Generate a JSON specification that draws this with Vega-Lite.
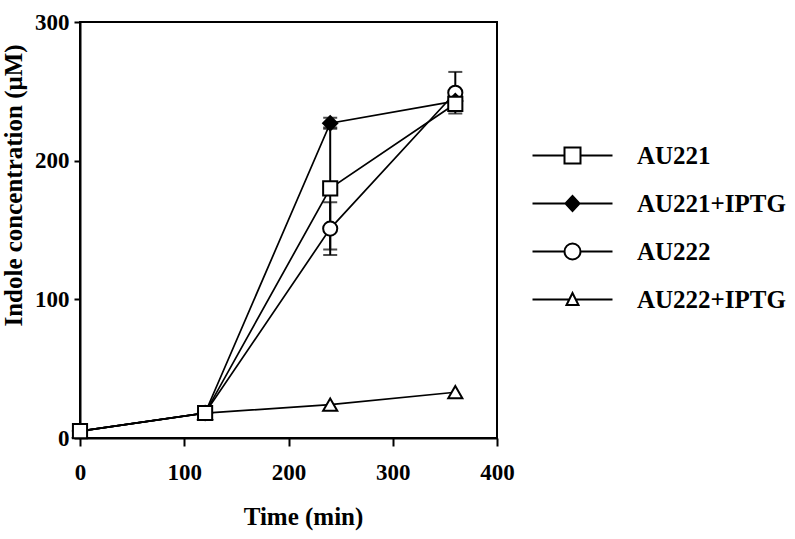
{
  "$schema": "https://vega.github.io/schema/vega-lite/v6.json",
  "width": 417,
  "height": 416,
  "autosize": {"type": "none"},
  "padding": {"left": 80, "top": 22, "right": 298, "bottom": 101},
  "background": "white",
  "config": {
    "font": "Liberation Serif",
    "view": {"stroke": "black", "strokeWidth": 2},
    "axis": {
      "labelFont": "Liberation Serif", "labelFontWeight": "bold", "labelFontSize": 23, "labelColor": "black",
      "titleFont": "Liberation Serif", "titleFontWeight": "bold", "titleFontSize": 25, "titleColor": "black",
      "domainColor": "black", "domainWidth": 2, "tickColor": "black", "tickWidth": 2, "grid": false
    },
    "legend": {
      "symbolStrokeColor": "black", "symbolStrokeWidth": 2
    }
  },
  "data": {
    "values": [
      {"series": "AU222+IPTG", "time": 0, "value": 5},
      {"series": "AU222+IPTG", "time": 120, "value": 18},
      {"series": "AU222+IPTG", "time": 240, "value": 24},
      {"series": "AU222+IPTG", "time": 360, "value": 33},
      {"series": "AU222", "time": 0, "value": 5},
      {"series": "AU222", "time": 120, "value": 18},
      {"series": "AU222", "time": 240, "value": 151, "lo": 132, "hi": 170},
      {"series": "AU222", "time": 360, "value": 249, "lo": 234, "hi": 264},
      {"series": "AU221+IPTG", "time": 0, "value": 5},
      {"series": "AU221+IPTG", "time": 120, "value": 18},
      {"series": "AU221+IPTG", "time": 240, "value": 227, "lo": 223, "hi": 231},
      {"series": "AU221+IPTG", "time": 360, "value": 243},
      {"series": "AU221", "time": 0, "value": 5},
      {"series": "AU221", "time": 120, "value": 18},
      {"series": "AU221", "time": 240, "value": 180, "lo": 136, "hi": 224},
      {"series": "AU221", "time": 360, "value": 241}
    ]
  },
  "encoding": {
    "x": {"field": "time", "type": "quantitative", "scale": {"domain": [0, 400], "nice": false},
      "axis": {"title": "Time (min)", "values": [0, 100, 200, 300, 400], "tickSize": 8, "labelPadding": 15, "titlePadding": 20, "titleX": 223, "labelFlush": false}},
    "y": {"field": "value", "type": "quantitative", "scale": {"domain": [0, 300], "nice": false},
      "axis": {"title": "Indole concentration (μM)", "values": [0, 100, 200, 300], "tickSize": 6, "labelPadding": 5, "titlePadding": 8, "titleY": 163, "titleFontSize": 25, "labelFlush": false}}
  },
  "layer": [
    {
      "mark": {"type": "line", "color": "black", "strokeWidth": 1.7},
      "encoding": {"detail": {"field": "series"}}
    },
    {
      "transform": [{"filter": "isValid(datum.lo)"}],
      "mark": {"type": "rule", "color": "black", "strokeWidth": 2},
      "encoding": {"y": {"field": "lo", "type": "quantitative"}, "y2": {"field": "hi"}}
    },
    {
      "transform": [{"filter": "isValid(datum.lo)"}],
      "mark": {"type": "tick", "orient": "horizontal", "color": "black", "size": 14, "thickness": 2},
      "encoding": {"y": {"field": "lo", "type": "quantitative"}}
    },
    {
      "transform": [{"filter": "isValid(datum.hi)"}],
      "mark": {"type": "tick", "orient": "horizontal", "color": "black", "size": 14, "thickness": 2},
      "encoding": {"y": {"field": "hi", "type": "quantitative"}}
    },
    {
      "mark": {"type": "point", "filled": true, "stroke": "black", "strokeWidth": 2, "size": 200, "opacity": 1},
      "encoding": {
        "shape": {
          "field": "series", "type": "nominal",
          "scale": {"domain": ["AU222+IPTG", "AU222", "AU221+IPTG", "AU221"], "range": ["triangle-up", "circle", "diamond", "square"]},
          "legend": null
        },
        "fill": {
          "field": "series", "type": "nominal",
          "scale": {"domain": ["AU221", "AU221+IPTG", "AU222", "AU222+IPTG"], "range": ["white", "black", "white", "white"]},
          "legend": {
            "title": null, "orient": "none", "legendX": 480, "legendY": 121, "padding": 0,
            "symbolSize": 400,
            "labelFont": "Liberation Serif", "labelFontSize": 25, "labelFontWeight": "bold", "labelColor": "black",
            "labelOffset": 52, "rowPadding": 22, "labelLimit": 300,
            "encoding": {
              "symbols": {
                "stroke": {"value": "black"},
                "strokeWidth": {"value": 2},
                "shape": {
                  "condition": [
                    {"test": "datum.value === 'AU221'", "value": "M-4,0H-0.8M0.8,0H4M-0.8,-0.8H0.8V0.8H-0.8Z"},
                    {"test": "datum.value === 'AU221+IPTG'", "value": "M-4,0H4M-0.7,0L0,-0.75L0.7,0L0,0.75Z"},
                    {"test": "datum.value === 'AU222'", "value": "M-4,0H-0.8M0.8,0H4M-0.8,0A0.8,0.8,0,1,1,0.8,0A0.8,0.8,0,1,1,-0.8,0Z"}
                  ],
                  "value": "M-4,0H-0.33M0.33,0H4M-0.6,0.55L0,-0.65L0.6,0.55Z"
                }
              }
            }
          }
        }
      }
    }
  ]
}
